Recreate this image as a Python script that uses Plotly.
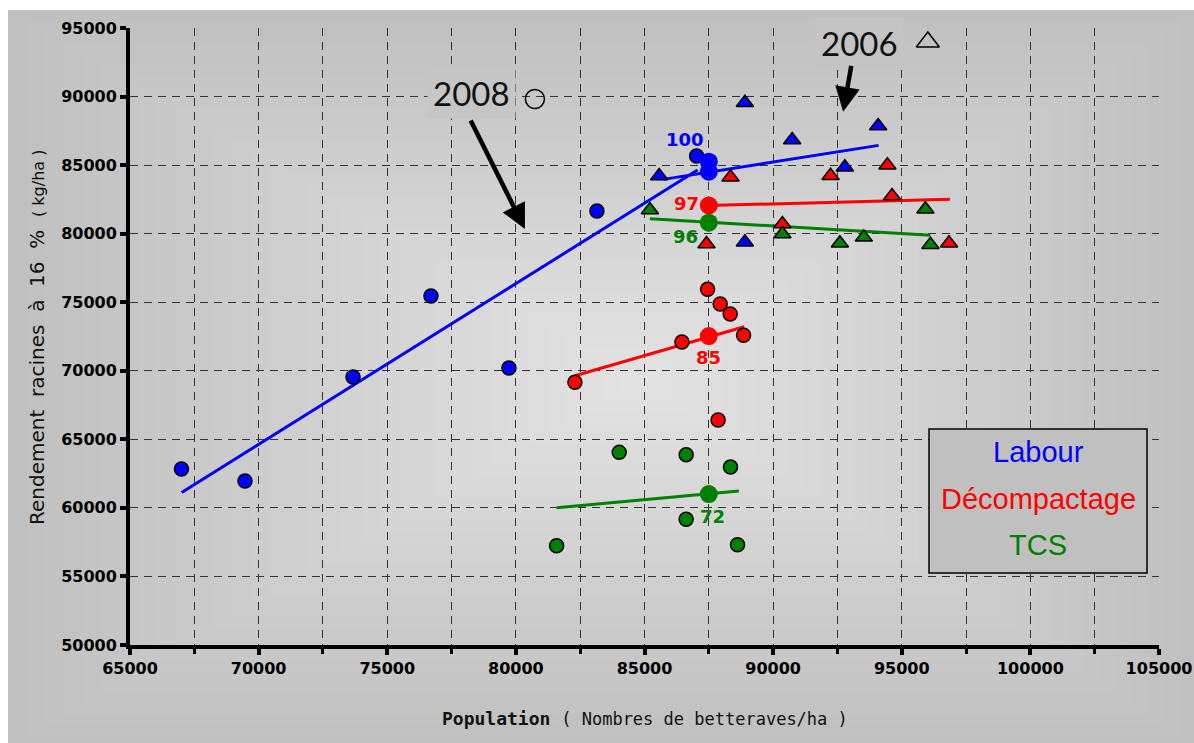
import plotly.graph_objects as go

# ---- 2008 : circles -------------------------------------------------------
pop_labour_2008 = [67000, 69470, 73670, 76700, 79730, 83150, 87025]
yield_labour_2008 = [62830, 61960, 69540, 75450, 70200, 81650, 85660]

pop_decomp_2008 = [82295, 86455, 87452, 87942, 88331, 88851, 87862]
yield_decomp_2008 = [69160, 72100, 75940, 74870, 74140, 72590, 66410]

pop_tcs_2008 = [81583, 84017, 86620, 88344, 86620, 88616]
yield_tcs_2008 = [57240, 64050, 63880, 62980, 59170, 57310]

# ---- 2006 : triangles -----------------------------------------------------
pop_labour_2006 = [85570, 88902, 90740, 94082, 92788, 88902]
yield_labour_2006 = [84200, 89550, 86830, 87850, 84840, 79370]

pop_decomp_2006 = [88344, 92232, 94442, 94623, 90361, 87410, 96840]
yield_decomp_2006 = [84110, 84230, 84990, 82750, 80700, 79250, 79300]

pop_tcs_2006 = [85210, 90361, 93526, 92595, 95920, 96115]
yield_tcs_2006 = [81730, 79980, 79730, 79300, 81780, 79200]

# ---- trend lines (start / end) -------------------------------------------
trend_labour_2008_x = [67008, 87063]
trend_labour_2008_y = [61130, 84640]
trend_decomp_2008_x = [82295, 88874]
trend_decomp_2008_y = [69640, 73210]
trend_tcs_2008_x = [81583, 88666]
trend_tcs_2008_y = [60010, 61230]

trend_labour_2006_x = [85727, 94098]
trend_labour_2006_y = [83960, 86440]
trend_decomp_2006_x = [87410, 96870]
trend_decomp_2006_y = [82050, 82505]
trend_tcs_2006_x = [85210, 96115]
trend_tcs_2006_y = [81090, 79880]

# ---- yields at the reference population ----------------------------------
ref_population = 87500
systems = ["Labour", "Décompactage", "TCS"]
colors = ["#0000ff", "#ff0000", "#008000"]
ref_yield_2008 = [85250, 72530, 61010]
ref_yield_2006 = [84520, 82060, 80800]

# axis ticks
x_ticks = [65000, 70000, 75000, 80000, 85000, 90000, 95000, 100000, 105000]
y_ticks = [50000, 55000, 60000, 65000, 70000, 75000, 80000, 85000, 90000, 95000]

# plot-area geometry in pixels
W, H = 1194, 743
L, R, T, B = 130, 1159, 28, 645


def px(xp):
    return (xp - L) / (R - L)


def py(yp):
    return (B - yp) / (B - T)


fig = go.Figure()

# background: rectangular gradient, lighter towards the centre
shapes = []
N = 34
cx, cy = 640, 380
ox0, ox1, oy0, oy1 = 8, W + 4, 10, H + 4
for i in range(N):
    f = i / N
    x0 = ox0 + (cx - ox0) * f
    x1 = ox1 - (ox1 - cx) * f
    y0 = oy0 + (cy - oy0) * f
    y1 = oy1 - (oy1 - cy) * f
    g = round(192 + (226 - 192) * i / (N - 1))
    shapes.append(dict(type="rect", xref="paper", yref="paper",
                       x0=px(x0), x1=px(x1), y0=py(y1), y1=py(y0),
                       fillcolor=f"rgb({g},{g},{g})", line_width=0,
                       layer="below"))

# trend lines
for tx, ty, c in [
    (trend_labour_2008_x, trend_labour_2008_y, colors[0]),
    (trend_decomp_2008_x, trend_decomp_2008_y, colors[1]),
    (trend_tcs_2008_x, trend_tcs_2008_y, colors[2]),
    (trend_labour_2006_x, trend_labour_2006_y, colors[0]),
    (trend_decomp_2006_x, trend_decomp_2006_y, colors[1]),
    (trend_tcs_2006_x, trend_tcs_2006_y, colors[2]),
]:
    fig.add_trace(go.Scatter(x=tx, y=ty, mode="lines",
                             line=dict(color=c, width=3)))

# 2006 triangles
for xs, ys, c in [
    (pop_labour_2006, yield_labour_2006, colors[0]),
    (pop_decomp_2006, yield_decomp_2006, colors[1]),
    (pop_tcs_2006, yield_tcs_2006, colors[2]),
]:
    fig.add_trace(go.Scatter(x=xs, y=ys, mode="markers",
                             marker=dict(symbol="triangle-up", size=15, color=c,
                                         line=dict(color="black", width=1.5))))

# 2008 circles
for xs, ys, c in [
    (pop_labour_2008, yield_labour_2008, colors[0]),
    (pop_decomp_2008, yield_decomp_2008, colors[1]),
    (pop_tcs_2008, yield_tcs_2008, colors[2]),
]:
    fig.add_trace(go.Scatter(x=xs, y=ys, mode="markers",
                             marker=dict(symbol="circle", size=14, color=c,
                                         line=dict(color="black", width=1.5))))

# yields at the reference population, with index relative to Labour
annotations = []
label_offsets_2008 = [(-24, 22), (0, -21), (4, -22)]
label_offsets_2006 = [None, (-22, 2), (-23, -14)]
for k in range(3):
    for ref_list, offsets in [(ref_yield_2008, label_offsets_2008),
                              (ref_yield_2006, label_offsets_2006)]:
        yv = ref_list[k]
        fig.add_trace(go.Scatter(x=[ref_population], y=[yv], mode="markers",
                                 marker=dict(symbol="circle", size=18,
                                             color=colors[k])))
        off = offsets[k]
        if off is not None:
            idx = round(100 * yv / ref_list[0])
            annotations.append(dict(
                x=ref_population, y=yv, xref="x", yref="y",
                xanchor="center", yanchor="middle",
                text=f"<b>{idx}</b>", showarrow=False,
                xshift=off[0], yshift=off[1],
                font=dict(family="DejaVu Sans", size=18, color=colors[k])))

# year keys: open circle for 2008, open triangle for 2006
fig.add_trace(go.Scatter(x=[80740], y=[89820], mode="markers",
                         marker=dict(symbol="circle-open", size=19, color="black",
                                     line=dict(width=1.5))))
fig.add_trace(go.Scatter(x=[96014], y=[93980], mode="markers",
                         marker=dict(symbol="triangle-up-open", size=20,
                                     color="black", line=dict(width=1.5))))

year_font = dict(family="Lato", size=33, color="#111111")
annotations += [
    dict(x=78292, y=90260, xref="x", yref="y", text="2008", showarrow=False,
         xanchor="center", yanchor="middle",
         font=year_font, bgcolor="#c6c6c6", borderpad=5),
    dict(x=93371, y=93906, xref="x", yref="y", text="2006", showarrow=False,
         xanchor="center", yanchor="middle",
         font=year_font, bgcolor="#c4c4c4", borderpad=5),
    # arrows
    dict(x=80352, y=80340, xref="x", yref="y", ax=78214, ay=88360,
         axref="x", ayref="y", text="", showarrow=True, arrowhead=2,
         arrowsize=1.1, arrowwidth=4.5, arrowcolor="black", standoff=0),
    dict(x=92722, y=88895, xref="x", yref="y", ax=93048, ay=92350,
         axref="x", ayref="y", text="", showarrow=True, arrowhead=2,
         arrowsize=1.1, arrowwidth=4.5, arrowcolor="black", standoff=0),
]

# legend box
shapes.append(dict(type="rect", xref="paper", yref="paper",
                   x0=px(929), x1=px(1147), y0=py(573), y1=py(429),
                   fillcolor="#c0c0c0", line=dict(color="black", width=1.5),
                   layer="above"))
for name, c, yp in zip(systems, colors, [452, 499, 545]):
    annotations.append(dict(x=px(1038), y=py(yp), xref="paper", yref="paper",
                            xanchor="center", yanchor="middle",
                            text=name, showarrow=False,
                            font=dict(family="Liberation Sans", size=29, color=c)))

# axis titles
annotations.append(dict(
    x=px(37), y=py(338), xref="paper", yref="paper", textangle=-90,
    xanchor="center", yanchor="middle",
    text="Rendement  racines  à  16  %  <span style='font-size:16px'>( kg/ha )</span>",
    showarrow=False, font=dict(family="DejaVu Sans", size=20, color="#111111")))
annotations.append(dict(
    x=px(645), y=py(718), xref="paper", yref="paper",
    xanchor="center", yanchor="middle",
    text="<b>Population</b> <span style='font-size:17px'>( Nombres de betteraves/ha )</span>",
    showarrow=False, font=dict(family="DejaVu Sans Mono", size=18, color="#111111")))

grid = dict(gridcolor="#333333", gridwidth=1, griddash="8px,6px")
tickfont = dict(family="DejaVu Sans", size=16, color="black")

fig.update_layout(
    width=W, height=H, autosize=False,
    margin=dict(l=L, r=W - R, t=T, b=H - B, pad=0),
    paper_bgcolor="white", plot_bgcolor="rgba(0,0,0,0)",
    showlegend=False, shapes=shapes, annotations=annotations,
    xaxis=dict(range=[65000, 105000], tickvals=x_ticks, automargin=False,
               ticktext=[f"<b>{v}</b>" for v in x_ticks], showgrid=True, **grid,
               zeroline=False, showline=True, linewidth=4, linecolor="black",
               ticks="outside", ticklen=6, tickwidth=4, tickcolor="black",
               tickfont=tickfont,
               minor=dict(tick0=65000, dtick=2500, showgrid=True, ticks="outside",
                          ticklen=5, tickwidth=3, tickcolor="black", **grid)),
    yaxis=dict(range=[50000, 95000], tickvals=y_ticks, automargin=False,
               ticktext=[f"<b>{v}</b>" for v in y_ticks], showgrid=True, **grid,
               zeroline=False, showline=True, linewidth=4, linecolor="black",
               ticks="outside", ticklen=6, tickwidth=4, tickcolor="black",
               tickfont=tickfont),
)

fig.write_html("out.html")
